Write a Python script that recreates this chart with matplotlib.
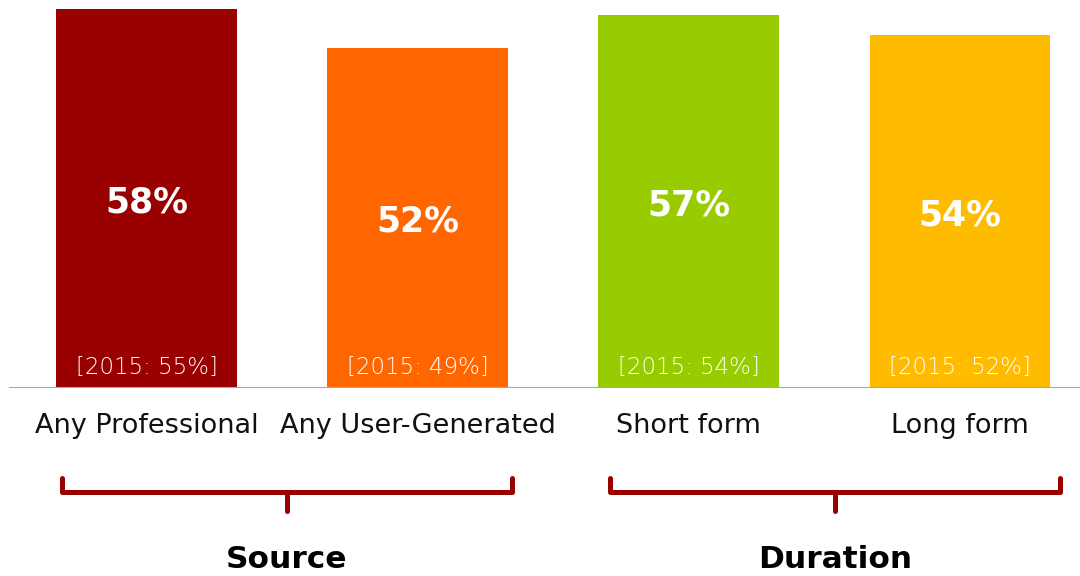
import numpy as np
import matplotlib
matplotlib.use('Agg')
import matplotlib.pyplot as plt

categories = ['Any Professional', 'Any User-Generated', 'Short form', 'Long form']
values_2016 = [58, 52, 57, 54]
values_2015 = [55, 49, 54, 52]
colors = ['#990000', '#FF6600', '#99CC00', '#FFBB00']
groups = ['Source', 'Duration']
group_members = [(0, 1), (2, 3)]

plt.rcParams['font.family'] = ['DejaVu Sans']

fig = plt.figure(figsize=(10.8, 5.76), dpi=100)
ax = fig.add_axes([0, (576 - 388) / 576, 1, 388 / 576])

x = np.arange(len(categories))
bars = ax.bar(x, values_2016, width=0.667, color=colors, zorder=2)

ax.set_xlim(-0.540, 3.4425)
ax.set_ylim(0, 59.33)
ax.axis('off')

# baseline
ax.axhline(0, xmin=(10 / 1080), xmax=1, color='#a6a6a6', lw=1.5, zorder=3)

for i, v in enumerate(values_2016):
    ax.text(x[i], v / 2 - 0.6, '%d%%' % v, ha='center', va='center',
            color='white', fontsize=25, fontweight='bold')
    ax.text(x[i], 3.3, '[2015: %d%%]' % values_2015[i], ha='center', va='center',
            color='white', fontsize=16.5, fontweight='light')
    ax.text(x[i], -5.8, categories[i], ha='center', va='center',
            color='#111111', fontsize=19.5, clip_on=False)

# brackets under each group
shift = [0.018, 0.04]  # brackets sit a touch right of the group centre
for g, (a, b) in enumerate(group_members):
    c = (x[a] + x[b]) / 2. + shift[g]
    left, right = c - 0.83, c + 0.83
    top, mid, tip = -13.8, -15.9, -18.8
    ax.plot([left, left, right, right], [top, mid, mid, top], color='#990000',
            lw=3.6, solid_joinstyle='round', solid_capstyle='round', clip_on=False)
    ax.plot([c, c], [mid, tip], color='#990000', lw=3.6,
            solid_capstyle='round', clip_on=False)
    ax.text(c, -26.2, groups[g], ha='center', va='center', color='black',
            fontsize=22.5, fontweight='bold', clip_on=False)

fig.savefig('out.png', dpi=100, facecolor='white')
